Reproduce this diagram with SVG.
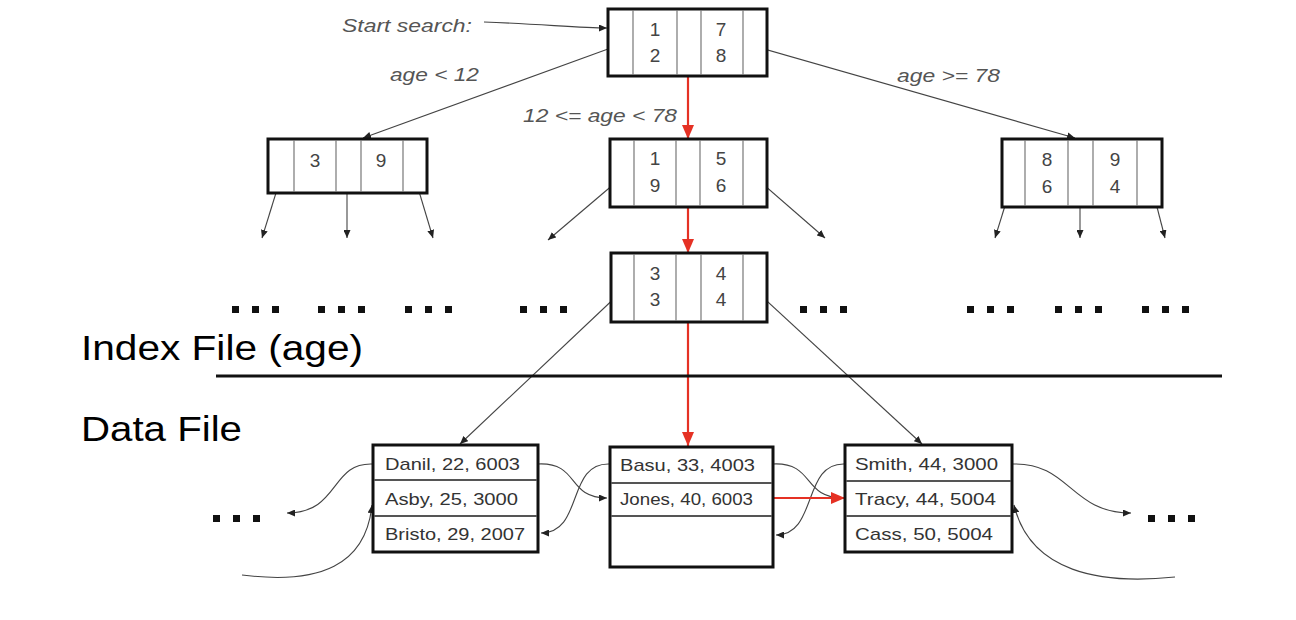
<svg xmlns="http://www.w3.org/2000/svg" width="1296" height="620" viewBox="0 0 1296 620">
<style>
.box{fill:#fff;stroke:#111;stroke-width:3}
.div{stroke:#777;stroke-width:1.2}
.rdiv{stroke:#555;stroke-width:2}
.key{font-family:"Liberation Sans",Arial,sans-serif;font-size:19px;fill:#444;text-anchor:middle}
.rec{font-family:"Liberation Sans",Arial,sans-serif;font-size:17px;fill:#333}
.lbl{font-family:"Liberation Sans",Arial,sans-serif;font-size:19px;font-style:italic;fill:#555}
.big{font-family:"Liberation Sans",Arial,sans-serif;font-size:35px;fill:#000}
.con{fill:none;stroke:#444;stroke-width:1.1}
.red{fill:none;stroke:#e53124;stroke-width:2.2}
.dot{fill:#111}
</style>
<defs>
<marker id="ah" markerUnits="userSpaceOnUse" markerWidth="8" markerHeight="7" refX="8" refY="3.5" orient="auto"><path d="M0,0 L8,3.5 L0,7 z" fill="#222"/></marker>
<marker id="rh" markerUnits="userSpaceOnUse" markerWidth="14" markerHeight="12" refX="14" refY="6" orient="auto"><path d="M0,0 L14,6 L0,12 z" fill="#e53124"/></marker>
<g id="dots3"><rect x="0" y="0" width="7" height="7"/><rect x="20" y="0" width="7" height="7"/><rect x="40" y="0" width="7" height="7"/></g>
</defs>
<rect width="1296" height="620" fill="#fff"/>

<g id="connectors">
<path class="con" d="M484,22 C540,24 580,28 607,28" marker-end="url(#ah)"/>
<path class="con" d="M608,49 L363,138" marker-end="url(#ah)"/>
<path class="con" d="M757,47 L1075,138" marker-end="url(#ah)"/>
<path class="con" d="M280,180 L262,238" marker-end="url(#ah)"/>
<path class="con" d="M347,180 L347,238" marker-end="url(#ah)"/>
<path class="con" d="M415,178 L433,238" marker-end="url(#ah)"/>
<path class="con" d="M621,178 L548,240" marker-end="url(#ah)"/>
<path class="con" d="M757,179 L825,238" marker-end="url(#ah)"/>
<path class="con" d="M1013,180 L995,238" marker-end="url(#ah)"/>
<path class="con" d="M1080,178 L1080,238" marker-end="url(#ah)"/>
<path class="con" d="M1150,180 L1165,238" marker-end="url(#ah)"/>
<path class="con" d="M621,292 L460,444" marker-end="url(#ah)"/>
<path class="con" d="M757,292 L922,444" marker-end="url(#ah)"/>
<path class="con" d="M373,464 C330,462 340,513 287,513" marker-end="url(#ah)"/>
<path class="con" d="M242,575 C320,585 366,565 372,505" marker-end="url(#ah)"/>
<path class="con" d="M538,464 C580,462 566,498 607,498" marker-end="url(#ah)"/>
<path class="con" d="M610,464 C566,462 584,533 541,533" marker-end="url(#ah)"/>
<path class="con" d="M773,464 C815,462 802,498 843,498" marker-end="url(#ah)"/>
<path class="con" d="M845,464 C802,462 818,535 776,535" marker-end="url(#ah)"/>
<path class="con" d="M1012,464 C1070,462 1070,513 1131,513" marker-end="url(#ah)"/>
<path class="con" d="M1175,577 C1100,585 1030,572 1014,505" marker-end="url(#ah)"/>
<path class="red" d="M688,55 L688,139" marker-end="url(#rh)"/>
<path class="red" d="M688,178 L688,253" marker-end="url(#rh)"/>
<path class="red" d="M688,292 L688,446" marker-end="url(#rh)"/>
<path class="red" d="M773,498 L845,498" marker-end="url(#rh)"/>
</g>

<g id="root">
<rect class="box" x="608" y="9" width="159" height="67"/>
<line class="div" x1="633" y1="10" x2="633" y2="75"/><line class="div" x1="677" y1="10" x2="677" y2="75"/><line class="div" x1="701" y1="10" x2="701" y2="75"/><line class="div" x1="743" y1="10" x2="743" y2="75"/>
<text class="key" x="655" y="36">1</text><text class="key" x="655" y="62">2</text>
<text class="key" x="721" y="36">7</text><text class="key" x="721" y="62">8</text>
</g>

<g id="node-left">
<rect class="box" x="268" y="139" width="159" height="54"/>
<line class="div" x1="294" y1="140" x2="294" y2="192"/><line class="div" x1="336" y1="140" x2="336" y2="192"/><line class="div" x1="361" y1="140" x2="361" y2="192"/><line class="div" x1="403" y1="140" x2="403" y2="192"/>
<text class="key" x="315" y="167">3</text><text class="key" x="381" y="167">9</text>
</g>

<g id="node-mid">
<rect class="box" x="610" y="139" width="157" height="68"/>
<line class="div" x1="634" y1="140" x2="634" y2="206"/><line class="div" x1="676" y1="140" x2="676" y2="206"/><line class="div" x1="700" y1="140" x2="700" y2="206"/><line class="div" x1="743" y1="140" x2="743" y2="206"/>
<text class="key" x="655" y="165">1</text><text class="key" x="655" y="192">9</text>
<text class="key" x="721" y="165">5</text><text class="key" x="721" y="192">6</text>
</g>

<g id="node-right">
<rect class="box" x="1002" y="139" width="160" height="68"/>
<line class="div" x1="1025" y1="140" x2="1025" y2="206"/><line class="div" x1="1068" y1="140" x2="1068" y2="206"/><line class="div" x1="1093" y1="140" x2="1093" y2="206"/><line class="div" x1="1137" y1="140" x2="1137" y2="206"/>
<text class="key" x="1047" y="166">8</text><text class="key" x="1047" y="193">6</text>
<text class="key" x="1115" y="166">9</text><text class="key" x="1115" y="193">4</text>
</g>

<g id="node-leaf">
<rect class="box" x="611" y="253" width="156" height="69"/>
<line class="div" x1="634" y1="254" x2="634" y2="321"/><line class="div" x1="676" y1="254" x2="676" y2="321"/><line class="div" x1="701" y1="254" x2="701" y2="321"/><line class="div" x1="743" y1="254" x2="743" y2="321"/>
<text class="key" x="655" y="280">3</text><text class="key" x="655" y="306">3</text>
<text class="key" x="721" y="280">4</text><text class="key" x="721" y="306">4</text>
</g>

<g id="index-dots" class="dot">
<use href="#dots3" x="232" y="306"/><use href="#dots3" x="318" y="306"/><use href="#dots3" x="405" y="306"/><use href="#dots3" x="520" y="306"/>
<use href="#dots3" x="800" y="306"/><use href="#dots3" x="967" y="306"/><use href="#dots3" x="1055" y="306"/><use href="#dots3" x="1142" y="306"/>
</g>

<g id="labels">
<text class="lbl" x="342" y="32" textLength="130" lengthAdjust="spacingAndGlyphs">Start search:</text>
<text class="lbl" x="390" y="81" textLength="89" lengthAdjust="spacingAndGlyphs">age &lt; 12</text>
<text class="lbl" x="523" y="122" textLength="154" lengthAdjust="spacingAndGlyphs">12 &lt;= age &lt; 78</text>
<text class="lbl" x="897" y="82" textLength="103" lengthAdjust="spacingAndGlyphs">age &gt;= 78</text>
<text class="big" x="81" y="360" textLength="282" lengthAdjust="spacingAndGlyphs">Index File (age)</text>
<text class="big" x="81" y="441" textLength="161" lengthAdjust="spacingAndGlyphs">Data File</text>
<line x1="216" y1="376" x2="1222" y2="376" stroke="#111" stroke-width="3"/>
</g>

<g id="data-left">
<rect class="box" x="373" y="445" width="165" height="107"/>
<line class="rdiv" x1="374" y1="480" x2="537" y2="480"/><line class="rdiv" x1="374" y1="516" x2="537" y2="516"/>
<text class="rec" x="385" y="470" textLength="135" lengthAdjust="spacingAndGlyphs">Danil, 22, 6003</text>
<text class="rec" x="385" y="505" textLength="133" lengthAdjust="spacingAndGlyphs">Asby, 25, 3000</text>
<text class="rec" x="385" y="540" textLength="140" lengthAdjust="spacingAndGlyphs">Bristo, 29, 2007</text>
</g>

<g id="data-mid">
<rect class="box" x="610" y="447" width="163" height="120"/>
<line class="rdiv" x1="611" y1="483" x2="772" y2="483"/><line class="rdiv" x1="611" y1="516" x2="772" y2="516"/>
<text class="rec" x="620" y="471" textLength="135" lengthAdjust="spacingAndGlyphs">Basu, 33, 4003</text>
<text class="rec" x="620" y="505" textLength="133" lengthAdjust="spacingAndGlyphs">Jones, 40, 6003</text>
</g>

<g id="data-right">
<rect class="box" x="845" y="445" width="167" height="107"/>
<line class="rdiv" x1="846" y1="481" x2="1011" y2="481"/><line class="rdiv" x1="846" y1="516" x2="1011" y2="516"/>
<text class="rec" x="855" y="470" textLength="143" lengthAdjust="spacingAndGlyphs">Smith, 44, 3000</text>
<text class="rec" x="855" y="505" textLength="141" lengthAdjust="spacingAndGlyphs">Tracy, 44, 5004</text>
<text class="rec" x="855" y="540" textLength="138" lengthAdjust="spacingAndGlyphs">Cass, 50, 5004</text>
</g>

<g id="data-dots" class="dot">
<use href="#dots3" x="213" y="515"/><use href="#dots3" x="1148" y="515"/>
</g>
</svg>
